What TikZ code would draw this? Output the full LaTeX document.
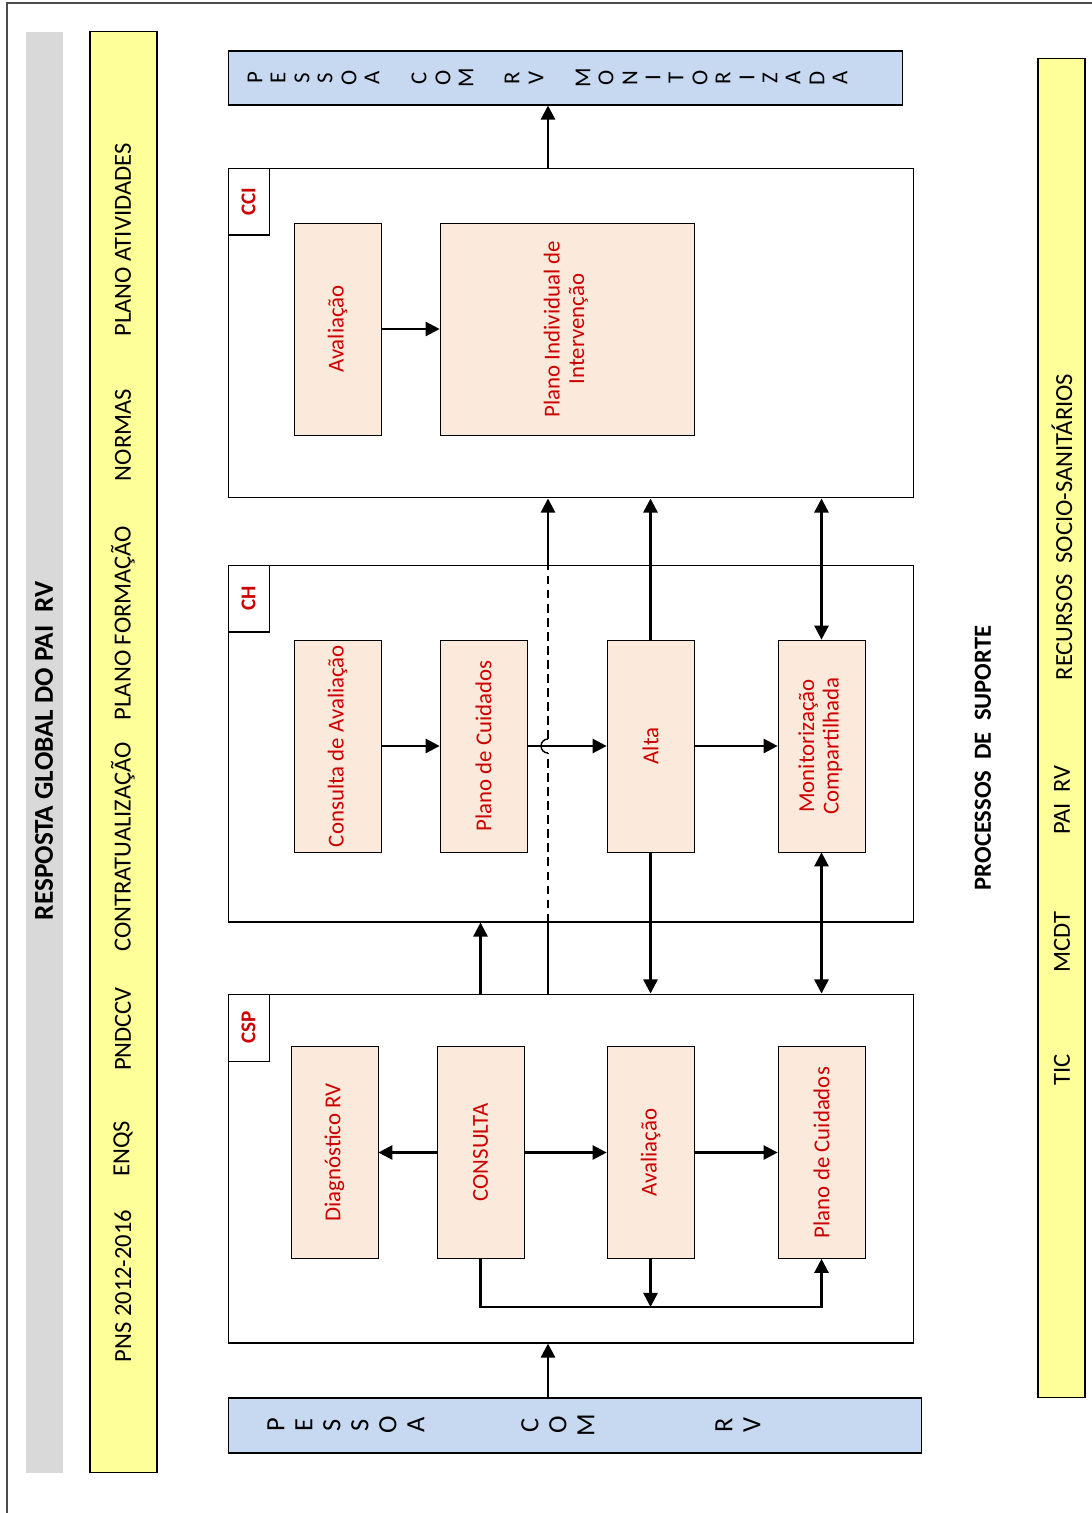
\documentclass[tikz,border=0pt]{standalone}
\usepackage{fontspec}
\setmainfont{Carlito}
\usetikzlibrary{shapes,arrows.meta,positioning}

\definecolor{peach}{RGB}{251,233,219}
\definecolor{skyblue}{RGB}{198,217,241}
\definecolor{paleyellow}{RGB}{255,255,153}
\definecolor{bargray}{RGB}{217,217,217}
\definecolor{txtred}{RGB}{204,0,0}

\tikzset{
  proc/.style={draw, fill=peach, text=txtred, minimum width=1.74cm, minimum height=4.24cm, inner sep=1pt, font=\fontsize{13}{14}\selectfont},
  frame/.style={draw, line width=0.6pt, minimum width=13.72cm},
  tab/.style={draw, line width=0.6pt, text=txtred, minimum width=0.82cm, minimum height=1.34cm, font=\bfseries\fontsize{12}{14}\selectfont},
  band/.style={draw, line width=0.6pt, fill=paleyellow},
  person/.style={draw, line width=0.6pt, fill=skyblue},
  bartext/.style={rotate=90, font=\fontsize{14}{16}\selectfont},
  lettop/.style={rotate=90, font=\fontsize{13}{14}\selectfont},
  letbot/.style={rotate=90, font=\fontsize{15}{16}\selectfont},
  arr/.style={line width=1.4pt, -{Triangle[length=8pt,width=8pt]}},
  darr/.style={line width=1.4pt, {Triangle[length=8pt,width=8pt]}-{Triangle[length=8pt,width=8pt]}},
}

\begin{document}
\begin{tikzpicture}[x=0.02cm, y=-0.02cm]
\useasboundingbox (0,0) rectangle (1091,1513);
\draw [gray!60!black, line width=0.8pt] (7,3) rectangle (1110,1530);

% left bands
\node[fill=bargray, minimum width=0.74cm, minimum height=28.82cm] (titlebar) at (44.5,752.5) {};
\node[rotate=90, font=\bfseries\fontsize{15.5}{17}\selectfont] (title) at (44,751) {RESPOSTA GLOBAL DO PAI\ \ RV};
\node[band, minimum width=1.34cm, minimum height=28.84cm] (plans) at (123.5,752) {};
\foreach \y/\t in {1286/PNS 2012-2016, 1149/ENQS, 1029/PNDCCV, 847/CONTRATUALIZAÇÃO,
                   623/PLANO FORMAÇÃO, 435/NORMAS, 240/PLANO ATIVIDADES} {
    \node[bartext] (plan\y) at (123,\y) {\t};
}

% right band
\node[font=\bfseries\fontsize{14}{16}\selectfont, rotate=90] (suporte) at (983,758) {PROCESSOS\ \ DE\ \ SUPORTE};
\node[band, minimum width=0.94cm, minimum height=26.8cm] (support) at (1061.5,728) {};
\foreach \y/\t in {1070/TIC, 942/MCDT, 800/PAI\ \ RV, 527/RECURSOS\ \ SOCIO-SANITÁRIOS} {
    \node[bartext] (sup\y) at (1062,\y) {\t};
}

% person boxes
\node[person, minimum width=13.5cm, minimum height=1.08cm] (pmon) at (565.5,78) {};
\foreach \x/\c in {255/P,278/E,302/S,325/S,349/O,372/A,419/C,443/O,466/M,512/R,536/V,
                   583/M,606/O,630/N,653/I,676/T,700/O,723/R,747/I,770/Z,793/A,817/D,840/A} {
    \node[lettop] (t\x) at (\x,78) {\c};
}
\node[person, minimum width=13.88cm, minimum height=1.1cm] (pcom) at (575,1425.5) {};
\foreach \x/\c in {276/P,304/E,332/S,360/S,388/O,416/A,530/C,558/O,586/M,724/R,752/V} {
    \node[letbot] (b\x) at (\x,1425) {\c};
}

% CCI
\node[frame, minimum height=6.6cm] (cci) at (571,333) {};
\node[tab, anchor=north west] (cciTab) at (cci.north west) {\rotatebox{90}{CCI}};
\node[proc] (aval1) at (337.5,329) {\rotatebox{90}{Avaliação}};
\node[proc, minimum width=5.08cm] (piv) at (567,329) {\rotatebox{90}{\begin{tabular}{@{}c@{}}Plano Individual de\\Intervenção\end{tabular}}};

% CH
\node[frame, minimum height=7.14cm] (ch) at (571,743.5) {};
\node[tab, anchor=north west] (chTab) at (ch.north west) {\rotatebox{90}{CH}};
\node[proc] (cav) at (337.5,746) {\rotatebox{90}{Consulta de Avaliação}};
\node[proc] (pcui) at (483.5,746) {\rotatebox{90}{Plano de Cuidados}};
\node[proc] (alta) at (650.5,746) {\rotatebox{90}{Alta}};
\node[proc] (mon) at (821.5,746) {\rotatebox{90}{\begin{tabular}{@{}c@{}}Monitorização\\Compartilhada\end{tabular}}};

% CSP
\node[frame, minimum height=6.98cm] (csp) at (571,1168.5) {};
\node[tab, anchor=north west] (cspTab) at (csp.north west) {\rotatebox{90}{CSP}};
\node[proc] (diag) at (334.5,1152.5) {\rotatebox{90}{Diagnóstico RV}};
\node[proc] (cons) at (480.5,1152.5) {\rotatebox{90}{CONSULTA}};
\node[proc] (aval2) at (650.5,1152.5) {\rotatebox{90}{Avaliação}};
\node[proc] (pc2) at (821.5,1152.5) {\rotatebox{90}{Plano de Cuidados}};

\coordinate (mid) at (548,0);
\coordinate (bus) at (0,1307);

% connectors
\draw[arr] (cci.north -| mid) -- (pmon.south -| mid);
\draw[arr] (pcom.north -| mid) -- (csp.south -| mid);
\draw[arr] (aval1) -- (piv);
\draw[arr] (cav) -- (pcui);
\draw[arr] (pcui) -- (alta);
\draw[arr] (alta) -- (mon);
\draw[arr] (alta.north) -- (alta.north |- cci.south);
\draw[darr] (mon.north) -- (mon.north |- cci.south);
\draw[arr] (alta.south) -- (alta.south |- csp.north);
\draw[darr] (mon.south) -- (mon.south |- csp.north);
\draw[arr] (cons.north |- csp.north) -- (cons.north |- ch.south);
\draw[line width=1.4pt] (csp.north -| mid) -- (ch.south -| mid);
\draw[thick, dash pattern=on 5pt off 3pt] (ch.south -| mid) -- ([yshift=-0.14cm]mid |- alta);
\draw[thick] ([yshift=-0.14cm]mid |- alta) arc[start angle=270, end angle=90, radius=0.14cm];
\draw[thick, dash pattern=on 5pt off 3pt] ([yshift=0.14cm]mid |- alta) -- (ch.north -| mid);
\draw[arr] (ch.north -| mid) -- (cci.south -| mid);
\draw[arr] (cons) -- (diag);
\draw[arr] (cons) -- (aval2);
\draw[arr] (aval2) -- (pc2);
\draw[arr] (cons.south) -- (cons.south |- bus) -| (pc2.south);
\draw[arr] (aval2.south) -- (aval2.south |- bus);
\end{tikzpicture}
\end{document}
